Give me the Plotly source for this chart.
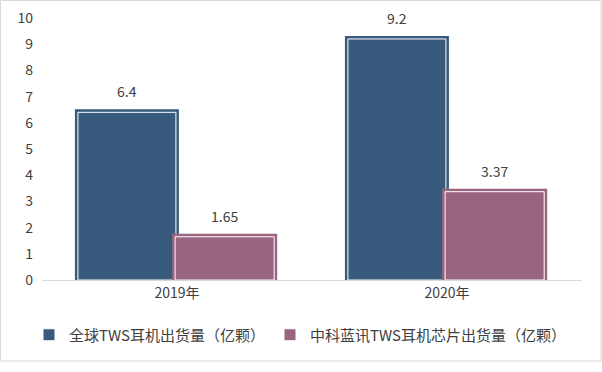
import plotly.graph_objects as go

categories = ["2019年", "2020年"]
series_names = ["全球TWS耳机出货量（亿颗）", "中科蓝讯TWS耳机芯片出货量（亿颗）"]
global_tws = [6.4, 9.2]
zklx_chips = [1.65, 3.37]
value_labels_global = ["6.4", "9.2"]
value_labels_zklx = ["1.65", "3.37"]
y_ticks = list(range(0, 11))

colors = ["#385B7D", "#98647F"]
offsets = [-0.367, -0.007]
widths = [0.363, 0.367]
font_family = "Noto Sans CJK SC, Noto Sans, sans-serif"

fig = go.Figure()
series = [(series_names[0], global_tws, value_labels_global),
          (series_names[1], zklx_chips, value_labels_zklx)]
for i, (name, vals, labels) in enumerate(series):
    # outer coloured outline
    fig.add_trace(go.Bar(
        x=categories, y=vals, offset=offsets[i], width=widths[i],
        marker=dict(color=colors[i], line=dict(color=colors[i], width=6)),
        showlegend=False, hoverinfo="skip", legendgroup=name,
    ))
    # inner fill with white gap
    fig.add_trace(go.Bar(
        x=categories, y=vals, offset=offsets[i], width=widths[i], name=name,
        marker=dict(color=colors[i], line=dict(color="white", width=1)),
        legendgroup=name,
    ))
    for j, (v, lab) in enumerate(zip(vals, labels)):
        fig.add_annotation(
            x=j + offsets[i] + widths[i] / 2, y=v, xref="x", yref="y",
            text=lab, showarrow=False, yanchor="bottom", yshift=9,
            font=dict(size=14, color="#404040", family=font_family),
        )

pw, ph = 540, 262
ml, mt = 42, 18
fig.add_shape(type="rect", xref="paper", yref="paper",
              x0=(0.5 - ml) / pw, x1=(601 - ml) / pw,
              y0=(mt + ph - 361) / ph, y1=(mt + ph - 0.5) / ph,
              line=dict(color="#d9d9d9", width=1), layer="below")

fig.update_layout(
    width=602, height=372,
    margin=dict(l=ml, r=602 - ml - pw, t=mt, b=372 - mt - ph),
    barmode="overlay",
    plot_bgcolor="white", paper_bgcolor="white",
    font=dict(family=font_family, size=14, color="#404040"),
    legend=dict(orientation="h", x=(300 - ml) / pw, xanchor="center",
                y=(mt + ph - 335) / ph, yanchor="middle",
                font=dict(size=15, color="#404040"), itemwidth=30,
                traceorder="normal"),
)
fig.update_xaxes(showline=True, linecolor="#d9d9d9", linewidth=1,
                 ticks="", showgrid=False, automargin=False,
                 tickfont=dict(size=14, color="#404040"))
fig.update_yaxes(range=[0, 10], tickvals=y_ticks, showgrid=False,
                 zeroline=False, showline=False, ticks="", automargin=False,
                 tickfont=dict(size=14, color="#404040"), ticklabelstandoff=8)

fig.write_html("out.html", config={"displayModeBar": False},
               post_script="document.body.style.margin='0';document.body.style.padding='0';")
